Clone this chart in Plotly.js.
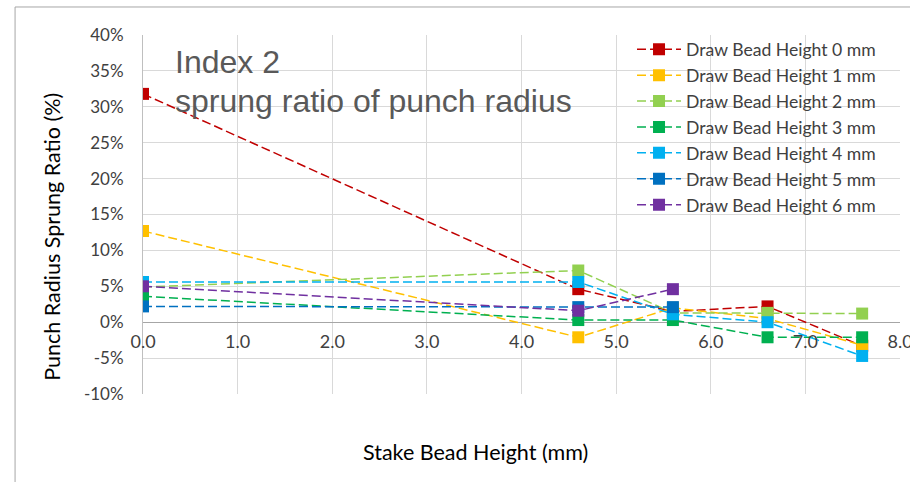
<!DOCTYPE html>
<html>
<head>
<meta charset="utf-8">
<script src="https://cdn.plot.ly/plotly-3.0.1.min.js"></script>
<style>
  html, body { margin: 0; padding: 0; background: #ffffff; }
  #chart { width: 910px; height: 482px; }
</style>
</head>
<body>
<div id="chart"></div>
<script>
// Data
var stakeHeights = [0, 4.6, 5.6, 6.6, 7.6];
var seriesNames = [
  'Draw Bead Height 0 mm', 'Draw Bead Height 1 mm', 'Draw Bead Height 2 mm',
  'Draw Bead Height 3 mm', 'Draw Bead Height 4 mm', 'Draw Bead Height 5 mm',
  'Draw Bead Height 6 mm'
];
var dbh0 = [31.8, 4.6, 1.5, 2.2, -3.3];
var dbh1 = [12.7, -2.1, 2.0, 0.5, -3.2];
var dbh2 = [4.9, 7.2, 1.3, 1.3, 1.2];
var dbh3 = [3.6, 0.3, 0.3, -2.1, -2.1];
var dbh4 = [5.6, 5.6, 1.1, 0.0, -4.7];
var dbh5 = [2.2, 2.1, 2.1, null, null];
var dbh6 = [5.0, 1.6, 4.6, null, null];
var seriesValues = [dbh0, dbh1, dbh2, dbh3, dbh4, dbh5, dbh6];
var seriesColors = ['#C00000', '#FFC000', '#92D050', '#00B050', '#00B0F0', '#0070C0', '#7030A0'];

var xTickVals = [0, 1, 2, 3, 4, 5, 6, 7, 8];
var xTickText = ['0.0', '1.0', '2.0', '3.0', '4.0', '5.0', '6.0', '7.0', '8.0'];
var yTickVals = [-10, -5, 0, 5, 10, 15, 20, 25, 30, 35, 40];
var yTickText = ['-10%', '-5%', '0%', '5%', '10%', '15%', '20%', '25%', '30%', '35%', '40%'];

var chartTitleLine1 = 'Index 2';
var chartTitleLine2 = 'sprung ratio of punch radius';
var xTitle = 'Stake Bead Height (mm)';
var yTitle = 'Punch Radius Sprung Ratio (%)';

var labelFont = 'Lato, "Open Sans", sans-serif';

var traces = seriesValues.map(function (vals, i) {
  return {
    type: 'scatter',
    mode: 'lines+markers',
    name: seriesNames[i],
    legendgroup: 'g' + i,
    x: stakeHeights,
    y: vals,
    connectgaps: false,
    line: { color: seriesColors[i], width: 1.5, dash: '9px,4px' },
    marker: { symbol: 'square', size: 12, color: seriesColors[i] }
  };
});

var layout = {
  width: 910,
  height: 482,
  margin: { l: 143, r: 10, t: 35, b: 88 },
  paper_bgcolor: '#ffffff',
  plot_bgcolor: '#ffffff',
  showlegend: true,
  legend: {
    x: 0.646, y: 1.01, xanchor: 'left', yanchor: 'top',
    bgcolor: 'rgba(0,0,0,0)',
    font: { family: labelFont, size: 17.6, color: '#404040' },
    itemwidth: 44,
    traceorder: 'grouped',
    tracegroupgap: 0
  },
  xaxis: {
    range: [0, 8],
    tickmode: 'array',
    tickvals: xTickVals,
    ticktext: xTickText,
    showgrid: true,
    gridcolor: '#D9D9D9',
    gridwidth: 1,
    zeroline: false,
    showline: false,
    ticks: '',
    anchor: 'free',
    position: 0.2,
    ticklabelstandoff: 7,
    ticklabeloverflow: 'allow',
    tickfont: { family: labelFont, size: 18, color: '#404040' },
    fixedrange: true
  },
  yaxis: {
    range: [-10, 40],
    tickmode: 'array',
    tickvals: yTickVals,
    ticktext: yTickText,
    showgrid: true,
    gridcolor: '#D9D9D9',
    gridwidth: 1,
    zeroline: true,
    zerolinecolor: '#A6A6A6',
    zerolinewidth: 1,
    showline: true,
    linecolor: '#BFBFBF',
    linewidth: 1,
    ticks: '',
    ticklabelstandoff: 15,
    tickfont: { family: labelFont, size: 17, color: '#404040' },
    fixedrange: true
  },
  annotations: [
    {
      text: chartTitleLine1, xref: 'paper', yref: 'paper',
      x: 0.040, y: 0.925, xanchor: 'left', yanchor: 'middle', showarrow: false,
      font: { family: '"Liberation Sans", Arial, sans-serif', size: 32, color: '#595959' }
    },
    {
      text: chartTitleLine2, xref: 'paper', yref: 'paper',
      x: 0.040, y: 0.815, xanchor: 'left', yanchor: 'middle', showarrow: false,
      font: { family: '"Liberation Sans", Arial, sans-serif', size: 32, color: '#595959' }
    },
    {
      text: xTitle, xref: 'paper', yref: 'paper',
      x: 0.4386, y: -0.1616, xanchor: 'center', yanchor: 'middle', showarrow: false,
      font: { family: labelFont, size: 21.5, color: '#000000' }
    },
    {
      text: yTitle, xref: 'paper', yref: 'paper', textangle: -90,
      x: -0.1206, y: 0.437, xanchor: 'center', yanchor: 'middle', showarrow: false,
      font: { family: labelFont, size: 21.5, color: '#000000' }
    }
  ],
  shapes: [
    {
      type: 'rect', xref: 'paper', yref: 'paper',
      x0: -0.169, x1: 1.05, y0: -0.35, y1: 1.078,
      line: { color: '#A6A6A6', width: 1 }, fillcolor: 'rgba(0,0,0,0)', layer: 'below'
    }
  ]
};

Plotly.newPlot('chart', traces, layout, { displayModeBar: false, staticPlot: true });
</script>
</body>
</html>
